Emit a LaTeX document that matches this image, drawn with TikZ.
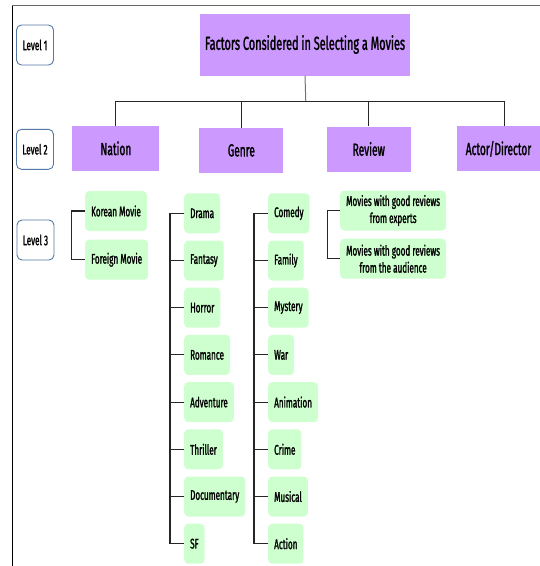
\documentclass[tikz,border=0pt]{standalone}
\usepackage{fontspec}
\setmainfont[FakeStretch=0.58,FakeBold=1.4]{Fira Sans}
\definecolor{boxpurple}{RGB}{204,153,255}
\definecolor{boxgreen}{RGB}{206,255,206}
\definecolor{levelblue}{RGB}{84,120,165}
\tikzset{
	level/.style={draw=levelblue, line width=0.9pt, rounded corners=5pt, fill=white, minimum width=37pt, minimum height=40pt, inner sep=0pt, font=\fontsize{14}{16}\selectfont},
	topic/.style={fill=boxpurple, minimum width=84pt, minimum height=45pt, inner sep=0pt, font=\fontsize{17.5}{20}\selectfont},
	item/.style={fill=boxgreen, rounded corners=4pt, minimum height=40pt, inner xsep=6pt, inner ysep=0pt, anchor=west, align=center, font=\fontsize{14}{17}\selectfont},
	link/.style={draw=black!85, line width=1.1pt}
}
\begin{document}
\begin{tikzpicture}[x=1pt,y=1pt,yscale=-1,xscale=1]
	\useasboundingbox (0,0) rectangle (540,566);
	%Frame lines
	\draw [color=black!60, line width=1.4pt] (540,5.7) -- (12.3,5.7) ;
	\draw [color=black, line width=1.2pt] (12.3,5.7) -- (12.3,566) ;

	% Level tags
	\node [level] (lvone) at (35,45) {Level 1};
	\node [level] (lvtwo) at (35,149.3) {Level 2};
	\node [level] (lvthree) at (35.5,240) {Level 3};

	% Level 1
	\node [topic, minimum width=210pt, minimum height=62pt, font=\fontsize{18.8}{22}\selectfont] (title) at (305,44.5) {Factors Considered in Selecting a Movies};

	% Level 2
	\node [topic, minimum width=87pt] (nation) at (115.9,148.4) {Nation};
	\node [topic] (genre) at (241.4,150.4) {Genre};
	\node [topic] (review) at (368.8,149) {Review};
	\node [topic, minimum width=83pt] (actor) at (498.5,148.9) {Actor/Director};

	% Level 3 : nation
	\node [item] (korean) at (85,211) {Korean Movie};
	\node [item] (foreign) at (85,259.7) {Foreign Movie};

	% Level 3 : genre, first column
	\node [item] (drama) at (184,213.3) {Drama};
	\node [item] (fantasy) at (184,260.5) {Fantasy};
	\node [item] (horror) at (184,307.7) {Horror};
	\node [item] (romance) at (184,354.9) {Romance};
	\node [item] (adventure) at (184,402.1) {Adventure};
	\node [item] (thriller) at (184,449.3) {Thriller};
	\node [item] (documentary) at (184,496.5) {Documentary};
	\node [item] (sf) at (184,543.7) {SF};

	% Level 3 : genre, second column
	\node [item] (comedy) at (268,213.3) {Comedy};
	\node [item] (family) at (268,260.5) {Family};
	\node [item] (mystery) at (268,307.7) {Mystery};
	\node [item] (war) at (268,354.9) {War};
	\node [item] (animation) at (268,402.1) {Animation};
	\node [item] (crime) at (268,449.3) {Crime};
	\node [item] (musical) at (268,496.5) {Musical};
	\node [item] (action) at (268,543.7) {Action};

	% Level 3 : review
	\node [item] (experts) at (340,210.5) {Movies with good reviews\\from experts};
	\node [item] (audience) at (340,258.7) {Movies with good reviews\\from the audience};

	% Tree lines
	\coordinate (bar) at (305.8,101.7);
	\draw [color=black!55, line width=1pt] (title.south) -- (bar) ;
	\draw [link] (nation.north) |- ([xshift=6pt]actor.north |- bar) -- ([xshift=6pt]actor.north) ;
	\draw [link] (bar -| genre.north) -- (genre.north) ;
	\draw [link] (bar -| review.north) -- (review.north) ;

	% Brackets
	\draw [link] (korean.west) -- ++(-13.7,0) |- (foreign.west) ;
	\draw [link] (experts.west) -- ++(-12.3,0) |- (audience.west) ;

	\draw [link] (drama.west) -- ++(-14,0) |- (sf.west) ;
	\draw [link] (fantasy.west) -- ++(-14,0) ;
	\draw [link] (horror.west) -- ++(-14,0) ;
	\draw [link] (romance.west) -- ++(-14,0) ;
	\draw [link] (adventure.west) -- ++(-14,0) ;
	\draw [link] (thriller.west) -- ++(-14,0) ;
	\draw [link] (documentary.west) -- ++(-14,0) ;

	\draw [link] (comedy.west) -- ++(-14,0) |- (action.west) ;
	\draw [link] (family.west) -- ++(-14,0) ;
	\draw [link] (mystery.west) -- ++(-14,0) ;
	\draw [link] (war.west) -- ++(-14,0) ;
	\draw [link] (animation.west) -- ++(-14,0) ;
	\draw [link] (crime.west) -- ++(-14,0) ;
	\draw [link] (musical.west) -- ++(-14,0) ;
\end{tikzpicture}
\end{document}
